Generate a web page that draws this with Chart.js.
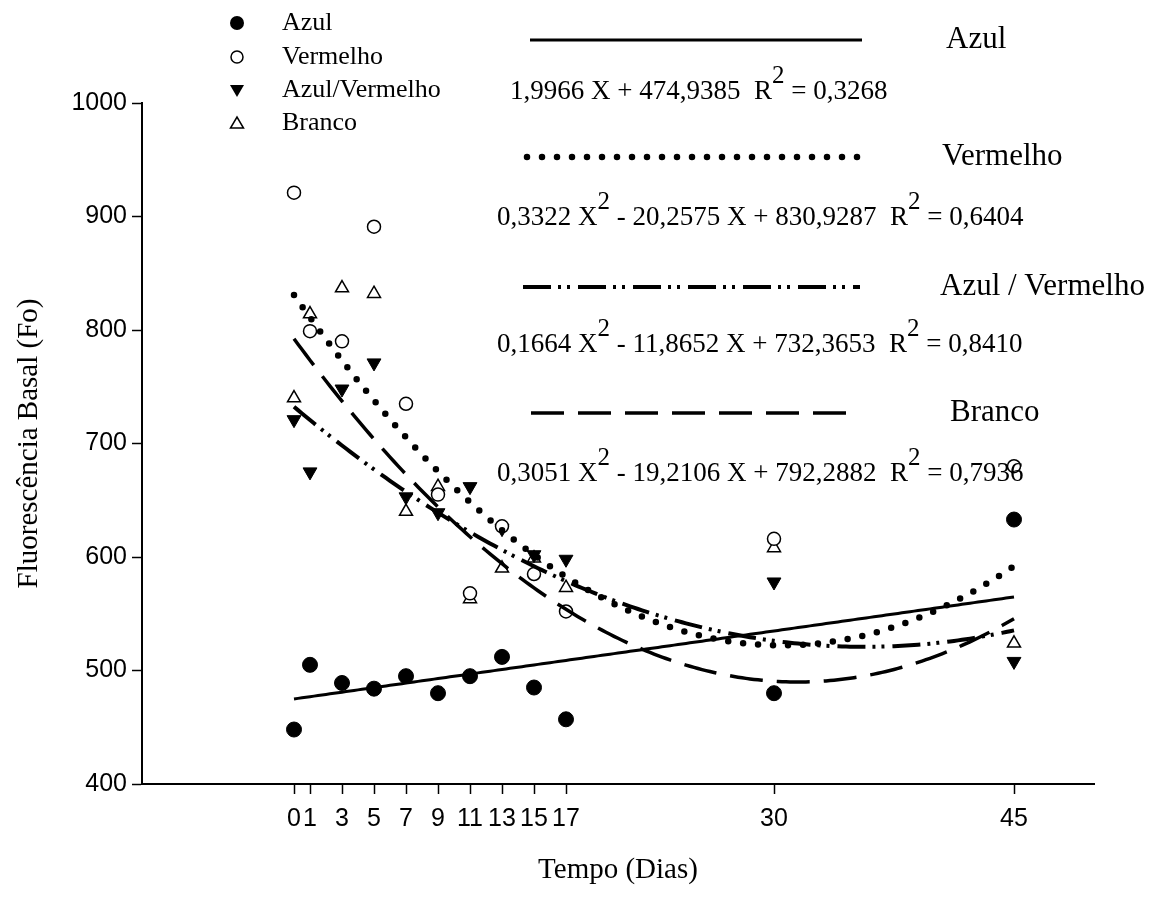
<!DOCTYPE html>
<html>
<head>
<meta charset="utf-8">
<script src="https://cdn.jsdelivr.net/npm/chart.js@4.4.1/dist/chart.umd.min.js"></script>
<style>
  html, body { margin: 0; padding: 0; background: #fff; }
</style>
</head>
<body>
<canvas id="fluorChart" width="1164" height="897"></canvas>
<script>
// days where measurements were taken (also the x tick positions)
const days = [0, 1, 3, 5, 7, 9, 11, 13, 15, 17, 30, 45];

// Fo readings, one value per day
const azul         = [448, 505, 489, 484, 495, 480, 495, 512, 485, 457, 480, 633];
const vermelho     = [921, 799, 790, 891, 735, 655, 568, 627, 585, 552, 616, 680];
const azulVermelho = [721, 675, 748, 771, 653, 639, 662, 625, 602, 598, 578, 508];
const branco       = [740, 814, 837, 832, 640, 662, 563, 590, 599, 573, 608, 524];

// regression coefficients printed on the figure: [c0, c1, c2] for c0 + c1*X + c2*X^2
const fitAzul         = [474.9385, 1.9966, 0];
const fitVermelho     = [830.9287, -20.2575, 0.3322];
const fitAzulVermelho = [732.3653, -11.8652, 0.1664];
const fitBranco       = [792.2882, -19.2106, 0.3051];

const seriesNames = ['Azul', 'Vermelho', 'Azul/Vermelho', 'Branco'];
const yTicks = [400, 500, 600, 700, 800, 900, 1000];

const equations = [
  ['1,9966 X + 474,9385  R', '2', ' = 0,3268'],
  ['0,3322 X', '2', ' - 20,2575 X + 830,9287  R', '2', ' = 0,6404'],
  ['0,1664 X', '2', ' - 11,8652 X + 732,3653  R', '2', ' = 0,8410'],
  ['0,3051 X', '2', ' - 19,2106 X + 792,2882  R', '2', ' = 0,7936']
];
const fitLabels = ['Azul', 'Vermelho', 'Azul / Vermelho', 'Branco'];

const SERIF = '"Liberation Serif", "Times New Roman", serif';
const SANS = '"Liberation Sans", Arial, sans-serif';

function points(ys) {
  return days.map((d, i) => ({ x: d, y: ys[i] }));
}

function fitCurve(c) {
  const pts = [];
  for (let x = 0; x <= 45.001; x += 0.25) {
    pts.push({ x: x, y: c[0] + c[1] * x + c[2] * x * x });
  }
  return pts;
}

const lineStyles = [
  { dash: [], width: 3, cap: 'butt' },
  { dash: [0, 15], width: 6.5, cap: 'round' },
  { dash: [28, 7, 3, 6, 3, 8], width: 4, cap: 'butt' },
  { dash: [33, 14], width: 3.5, cap: 'butt' }
];

function lineDataset(c, st) {
  return {
    type: 'scatter',
    data: fitCurve(c),
    showLine: true,
    borderColor: '#000',
    borderWidth: st.width,
    borderDash: st.dash,
    borderCapStyle: st.cap,
    pointRadius: 0,
    fill: false,
    tension: 0
  };
}

// legend (top left) and the regression annotations (top right)
const annotations = {
  id: 'annotations',
  afterDraw(chart) {
    const ctx = chart.ctx;
    ctx.save();

    // legend
    const legendY = [23, 57, 90, 123];
    ctx.fillStyle = '#000';
    ctx.strokeStyle = '#000';
    ctx.lineWidth = 1.5;
    legendY.forEach((y, i) => {
      const x = 237;
      ctx.beginPath();
      if (i === 0) {
        ctx.arc(x, y, 7, 0, Math.PI * 2);
        ctx.fill();
      } else if (i === 1) {
        ctx.arc(x, y, 6, 0, Math.PI * 2);
        ctx.stroke();
      } else if (i === 2) {
        ctx.moveTo(x - 7, y - 5);
        ctx.lineTo(x + 7, y - 5);
        ctx.lineTo(x, y + 7);
        ctx.closePath();
        ctx.fill();
      } else {
        ctx.moveTo(x - 6.5, y + 5);
        ctx.lineTo(x + 6.5, y + 5);
        ctx.lineTo(x, y - 6);
        ctx.closePath();
        ctx.stroke();
      }
      ctx.font = '26px ' + SERIF;
      ctx.textBaseline = 'middle';
      ctx.textAlign = 'left';
      ctx.fillText(seriesNames[i], 282, y);
    });

    // sample lines + labels + equations
    const rowY = [40, 157, 287, 413];
    const sampleX = [[530, 862], [527, 858], [523, 860], [531, 849]];
    const labelX = [946, 942, 940, 950];
    const eqY = [92, 218, 345, 474];
    const eqX = [510, 497, 497, 497];

    rowY.forEach((y, i) => {
      const st = lineStyles[i];
      ctx.beginPath();
      ctx.setLineDash(st.dash);
      ctx.lineWidth = st.width;
      ctx.lineCap = st.cap;
      ctx.moveTo(sampleX[i][0], y);
      ctx.lineTo(sampleX[i][1], y);
      ctx.stroke();
      ctx.setLineDash([]);
      ctx.lineCap = 'butt';

      ctx.font = '31px ' + SERIF;
      ctx.textBaseline = 'middle';
      ctx.fillText(fitLabels[i], labelX[i], y);

      let x = eqX[i];
      equations[i].forEach(part => {
        const sup = part === '2';
        ctx.font = (sup ? '25px ' : '27px ') + SERIF;
        ctx.fillText(part, x, sup ? eqY[i] - 16 : eqY[i]);
        x += ctx.measureText(part).width;
      });
    });

    ctx.restore();
  }
};

new Chart(document.getElementById('fluorChart').getContext('2d'), {
  type: 'scatter',
  data: {
    datasets: [
      lineDataset(fitAzul, lineStyles[0]),
      lineDataset(fitVermelho, lineStyles[1]),
      lineDataset(fitAzulVermelho, lineStyles[2]),
      lineDataset(fitBranco, lineStyles[3]),
      {
        label: 'Azul',
        data: points(azul),
        pointStyle: 'circle',
        pointRadius: 7.5,
        backgroundColor: '#000',
        borderColor: '#000',
        borderWidth: 1
      },
      {
        label: 'Vermelho',
        data: points(vermelho),
        pointStyle: 'circle',
        pointRadius: 6.5,
        backgroundColor: '#fff',
        borderColor: '#000',
        borderWidth: 1.5
      },
      {
        label: 'Azul/Vermelho',
        data: points(azulVermelho),
        pointStyle: 'triangle',
        rotation: 180,
        pointRadius: 8,
        backgroundColor: '#000',
        borderColor: '#000',
        borderWidth: 1
      },
      {
        label: 'Branco',
        data: points(branco),
        pointStyle: 'triangle',
        pointRadius: 7.5,
        backgroundColor: '#fff',
        borderColor: '#000',
        borderWidth: 1.5
      }
    ]
  },
  options: {
    responsive: false,
    animation: false,
    devicePixelRatio: 1,
    layout: { padding: { left: 0, right: 70, top: 103, bottom: 0 } },
    plugins: {
      legend: { display: false },
      tooltip: { enabled: false }
    },
    scales: {
      x: {
        type: 'linear',
        min: -9.5,
        max: 50,
        afterBuildTicks: scale => { scale.ticks = days.map(v => ({ value: v })); },
        afterFit: scale => { scale.height = 113; },
        grid: { display: true, drawOnChartArea: false, drawTicks: true, tickLength: 10, tickColor: '#000', tickWidth: 1.5 },
        border: { display: true, color: '#000', width: 2 },
        ticks: {
          autoSkip: false,
          maxRotation: 0,
          padding: 10,
          color: '#000',
          font: { family: SANS, size: 25 },
          callback: v => String(v)
        },
        title: {
          display: true,
          text: 'Tempo (Dias)',
          color: '#000',
          font: { family: SERIF, size: 29 },
          padding: { top: 0, bottom: 9 }
        }
      },
      y: {
        type: 'linear',
        min: 400,
        max: 1000,
        afterBuildTicks: scale => { scale.ticks = yTicks.map(v => ({ value: v })); },
        afterFit: scale => { scale.width = 142; },
        grid: { display: true, drawOnChartArea: false, drawTicks: true, tickLength: 10, tickColor: '#000', tickWidth: 1.5 },
        border: { display: true, color: '#000', width: 2 },
        ticks: {
          padding: 5,
          color: '#000',
          font: { family: SANS, size: 25 },
          callback: v => String(v)
        },
        title: {
          display: true,
          text: 'Fluorescência Basal (Fo)',
          color: '#000',
          font: { family: SERIF, size: 29 },
          padding: { top: 12, bottom: 0 }
        }
      }
    }
  },
  plugins: [annotations]
});
</script>
</body>
</html>
